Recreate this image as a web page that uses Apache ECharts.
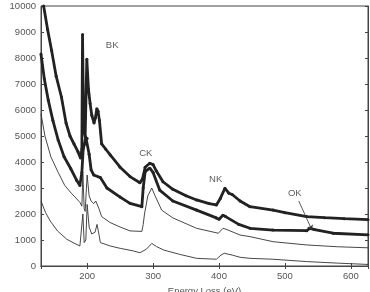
<!DOCTYPE html>
<html>
<head>
    <meta charset="utf-8">
    <title>EELS</title>
    <script src="https://cdn.jsdelivr.net/npm/echarts@6/dist/echarts.min.js"></script>
</head>
<body style="margin:0">
<div id="main" style="width: 370px;height:292px;"></div>

<script>
    // [energy loss eV, intensity]
    var curveA = [[134,10000],[140,9100],[146,8300],[153,7300],[161,6500],[168,5500],[174,5000],[180,4700],[186,4400],[190,4150],
        [192,4500],[193,8900],[194.5,5400],[197,5000],[199.5,7950],[202,6800],[204.5,6250],[207,5800],[210.5,5500],[212.5,5700],
        [214.7,6050],[216.5,5950],[218.6,5600],[222,4700],[228,4500],[235,4270],[250,3800],[265,3440],[280,3200],[284,3350],
        [288,3800],[295,3950],[300,3900],[305,3650],[315,3240],[330,2950],[350,2700],[366,2540],[385,2400],[396,2350],
        [402,2600],[409,2990],[415,2800],[420,2750],[432,2500],[447,2280],[482,2150],[500,2050],[533,1900],[560,1860],
        [590,1820],[626,1780]];
    var curveB = [[130,8150],[135,7200],[141,6380],[148,5600],[156,4850],[165,4200],[175,3750],[184,3300],[189,3100],[192,3600],
        [194,4500],[196,4700],[198,4950],[200,4900],[203,4300],[206,3700],[210,3500],[220,3400],[230,3000],[250,2650],
        [265,2410],[283,2280],[285,3000],[288,3630],[295,3760],[300,3600],[310,2920],[330,2500],[366,2150],[396,1850],
        [400,1800],[406,1950],[410,1900],[430,1600],[447,1450],[482,1380],[533,1360],[538,1450],[545,1400],[573,1260],
        [626,1200]];
    var curveC = [[130,5850],[136,5000],[145,4200],[156,3600],[166,3100],[176,2800],[189,2450],[192,2300],[193.5,3550],[195.5,2200],
        [197,2100],[200,3500],[203,2700],[206,2500],[210,2400],[213,2500],[215,2450],[218,2200],[222,1900],[235,1670],
        [250,1500],[265,1350],[283,1330],[285,1600],[287,2000],[292,2700],[298,3000],[303,2700],[313,2150],[330,1850],
        [366,1450],[399,1260],[406,1450],[412,1400],[432,1190],[447,1130],[482,935],[533,810],[580,740],[626,700]];
    var curveD = [[130,2500],[137,2050],[144,1730],[155,1350],[169,1030],[180,880],[189,770],[192,750],[193.5,2000],[195.5,900],
        [198,1000],[200,2370],[203,1500],[207,1230],[212,1300],[215,1600],[218,1200],[220,900],[235,770],[250,680],
        [270,580],[280,510],[290,650],[298,870],[305,750],[316,615],[340,450],[366,295],[396,260],[403,420],
        [408,490],[420,420],[432,335],[447,295],[482,260],[533,170],[580,110],[626,60]];
    var edgeLabels = [['BK',238,8500],['CK',289,4350],['NK',395,3350],['OK',515,2800]];
    var okArrow = [[521,2500],[541,1380]];

    var chart = echarts.init(document.getElementById('main'));
    var axisCol = '#444';
    var lblStyle = {color: '#555', fontSize: 9.5, fontFamily: 'Liberation Sans'};
    var plain = function (v) { return String(v); };

    function thick(data) {
        return {type: 'line', data: data, symbol: 'circle', symbolSize: 3, showSymbol: true,
            itemStyle: {color: '#222'}, lineStyle: {color: '#222', width: 2.8}, animation: false, z: 3};
    }
    function thin(data) {
        return {type: 'line', data: data, showSymbol: false,
            lineStyle: {color: '#333', width: 0.9}, animation: false, z: 2};
    }

    var option = {
        backgroundColor: '#fff',
        grid: {left: 41, right: 2, top: 6, bottom: 26, show: true, borderColor: axisCol, borderWidth: 1,
            containLabel: false, outerBoundsMode: 'none'},
        xAxis: [{
            type: 'value', min: 130, max: 626,
            name: 'Energy Loss (eV)', nameLocation: 'middle', nameGap: 17,
            nameTextStyle: lblStyle,
            axisLine: {lineStyle: {color: axisCol}},
            axisTick: {inside: true, length: 3, lineStyle: {color: axisCol}},
            axisLabel: Object.assign({showMinLabel: false, showMaxLabel: false, margin: 5, formatter: plain}, lblStyle),
            splitLine: {show: false}
        }, {
            type: 'value', min: 130, max: 626, position: 'top',
            axisLine: {lineStyle: {color: axisCol}},
            axisTick: {inside: true, length: 3, lineStyle: {color: axisCol}},
            axisLabel: {show: false}, splitLine: {show: false}
        }],
        yAxis: [{
            type: 'value', min: 0, max: 10000, interval: 1000,
            name: 'Intensity (arb. units)', nameLocation: 'middle', nameGap: 28,
            nameTextStyle: lblStyle,
            axisLine: {show: true, lineStyle: {color: axisCol}},
            axisTick: {show: true, inside: true, length: 3, lineStyle: {color: axisCol}},
            axisLabel: Object.assign({margin: 5, formatter: plain}, lblStyle),
            splitLine: {show: false}
        }, {
            type: 'value', min: 0, max: 10000, interval: 1000, position: 'right',
            axisLine: {show: true, lineStyle: {color: axisCol}},
            axisTick: {show: true, inside: true, length: 3, lineStyle: {color: axisCol}},
            axisLabel: {show: false}, splitLine: {show: false}
        }],
        series: [
            thick(curveA),
            thick(curveB),
            thin(curveC),
            Object.assign(thin(curveD), {
                markLine: {
                    silent: true, symbol: ['none', 'arrow'], symbolSize: 5, animation: false,
                    label: {show: false},
                    lineStyle: {color: '#333', width: 0.8, type: 'solid'},
                    data: [[{coord: okArrow[0]}, {coord: okArrow[1]}]]
                }
            }),
            {
                type: 'scatter', symbolSize: 0, animation: false, silent: true,
                data: edgeLabels.map(function (d) { return {value: [d[1], d[2]], name: d[0]}; }),
                label: {show: true, position: 'inside', formatter: '{b}', color: '#333', fontSize: 9.5, fontFamily: 'Liberation Sans'}
            }
        ]
    };
    chart.setOption(option);
</script>
</body>
</html>
